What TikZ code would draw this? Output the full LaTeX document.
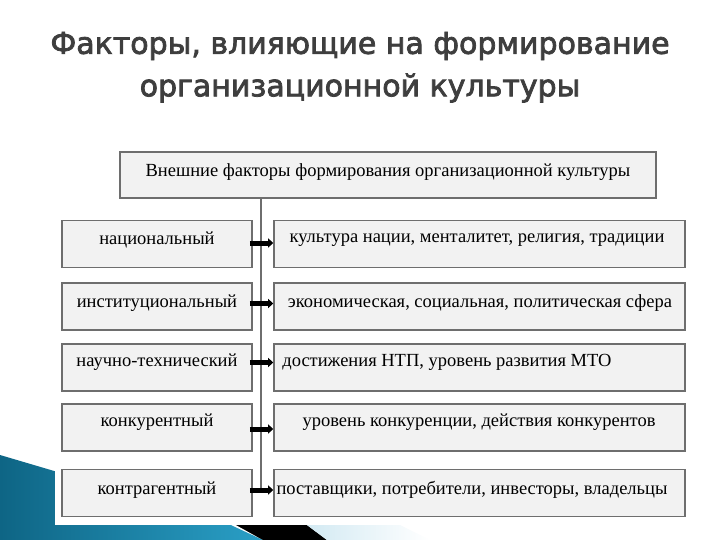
\documentclass[tikz,border=0pt]{standalone}
\usepackage{fontspec}
\setmainfont{Liberation Serif}
\newfontfamily\titlefont{DejaVu Sans}[FakeBold=2.5]
\usetikzlibrary{arrows.meta}
\definecolor{boxfill}{HTML}{F2F2F2}
\definecolor{boxline}{HTML}{6E6E6E}
\definecolor{titlegray}{HTML}{3E3E3E}
\definecolor{swdark}{HTML}{0E6585}
\definecolor{swlight}{HTML}{2A9FC6}
\definecolor{swpale}{HTML}{C9E5F0}
\tikzset{
  fbox/.style={draw=boxline, line width=1.6pt, fill=boxfill, inner sep=0pt, minimum height=47pt},
  leftbox/.style={fbox, minimum width=190pt},
  rightbox/.style={fbox, minimum width=411pt},
  txt/.style={font=\fontsize{18.5}{22}\selectfont, inner sep=0pt, text=black},
  ttl/.style={font=\titlefont\fontsize{30}{34}\selectfont, text=titlegray, inner sep=0pt},
  conn/.style={draw=boxline, line width=2pt},
  arr/.style={draw=black, line width=5pt, -{Triangle[length=5pt,width=9pt]}, shorten <=-3pt}
}
\begin{document}
\begin{tikzpicture}[x=1pt,y=-1pt]
\useasboundingbox (0,0) rectangle (720,540);
\fill[white] (0,0) rectangle (720,540);
% decorative swoosh
\shade[left color=swdark, right color=swlight] (0,455) -- (220,520) -- (263,540) -- (0,540) -- cycle;
\fill[black] (200,505) -- (280,505) -- (327,540) -- (263,540) -- cycle;
\shade[left color=swpale, right color=white] (280,505) -- (360,505) -- (430,540) -- (327,540) -- cycle;
% white panel
\fill[white] (55,130) rectangle (695,525);
% title
\node[ttl] (t1) at (360,46) {Факторы, влияющие на формирование};
\node[ttl] (t2) at (360,88) {организационной культуры};
% top box
\node[fbox, line width=2.4pt, minimum width=536pt, minimum height=46pt] (top) at (388,175) {};
\node[txt] (toptxt) at ([yshift=3pt]top.center) {Внешние факторы формирования организационной культуры};
% left boxes
\node[leftbox] (l1) at (157,244) {};
\node[leftbox] (l2) at (157,306.5) {};
\node[leftbox] (l3) at (157,367.5) {};
\node[leftbox] (l4) at (157,427.5) {};
\node[leftbox] (l5) at (157,493) {};
% right boxes
\node[rightbox] (r1) at (479.5,244) {};
\node[rightbox] (r2) at (479.5,306.5) {};
\node[rightbox] (r3) at (479.5,367.5) {};
\node[rightbox] (r4) at (479.5,427.5) {};
\node[rightbox] (r5) at (479.5,493) {};
% texts
\node[txt] (lt1) at (157,240) {национальный};
\node[txt] (lt2) at (157,303) {институциональный};
\node[txt] (lt3) at (157,362) {научно-технический};
\node[txt] (lt4) at (157,422) {конкурентный};
\node[txt] (lt5) at (157,490) {контрагентный};
\node[txt] (rt1) at (477,240) {культура нации, менталитет, религия, традиции};
\node[txt] (rt2) at (480,303) {экономическая, социальная, политическая сфера};
\node[txt] (rt3) at (447,362) {достижения НТП, уровень развития МТО};
\node[txt] (rt4) at (479,422) {уровень конкуренции, действия конкурентов};
\node[txt] (rt5) at (472,490) {поставщики, потребители, инвесторы, владельцы};
% trunk
\coordinate (vbot) at (261,493);
\draw[conn] (top.south -| vbot) -- (vbot);
% arrows
\draw[arr] ([yshift=1pt]l1.east) -- ([yshift=1pt]r1.west);
\draw[arr] ([yshift=3pt]l2.east) -- ([yshift=3pt]r2.west);
\draw[arr] ([yshift=5pt]l3.east) -- ([yshift=5pt]r3.west);
\draw[arr] ([yshift=-1.5pt]l4.east) -- ([yshift=-1.5pt]r4.west);
\draw[arr] ([yshift=3pt]l5.east) -- ([yshift=3pt]r5.west);
\end{tikzpicture}
\end{document}
